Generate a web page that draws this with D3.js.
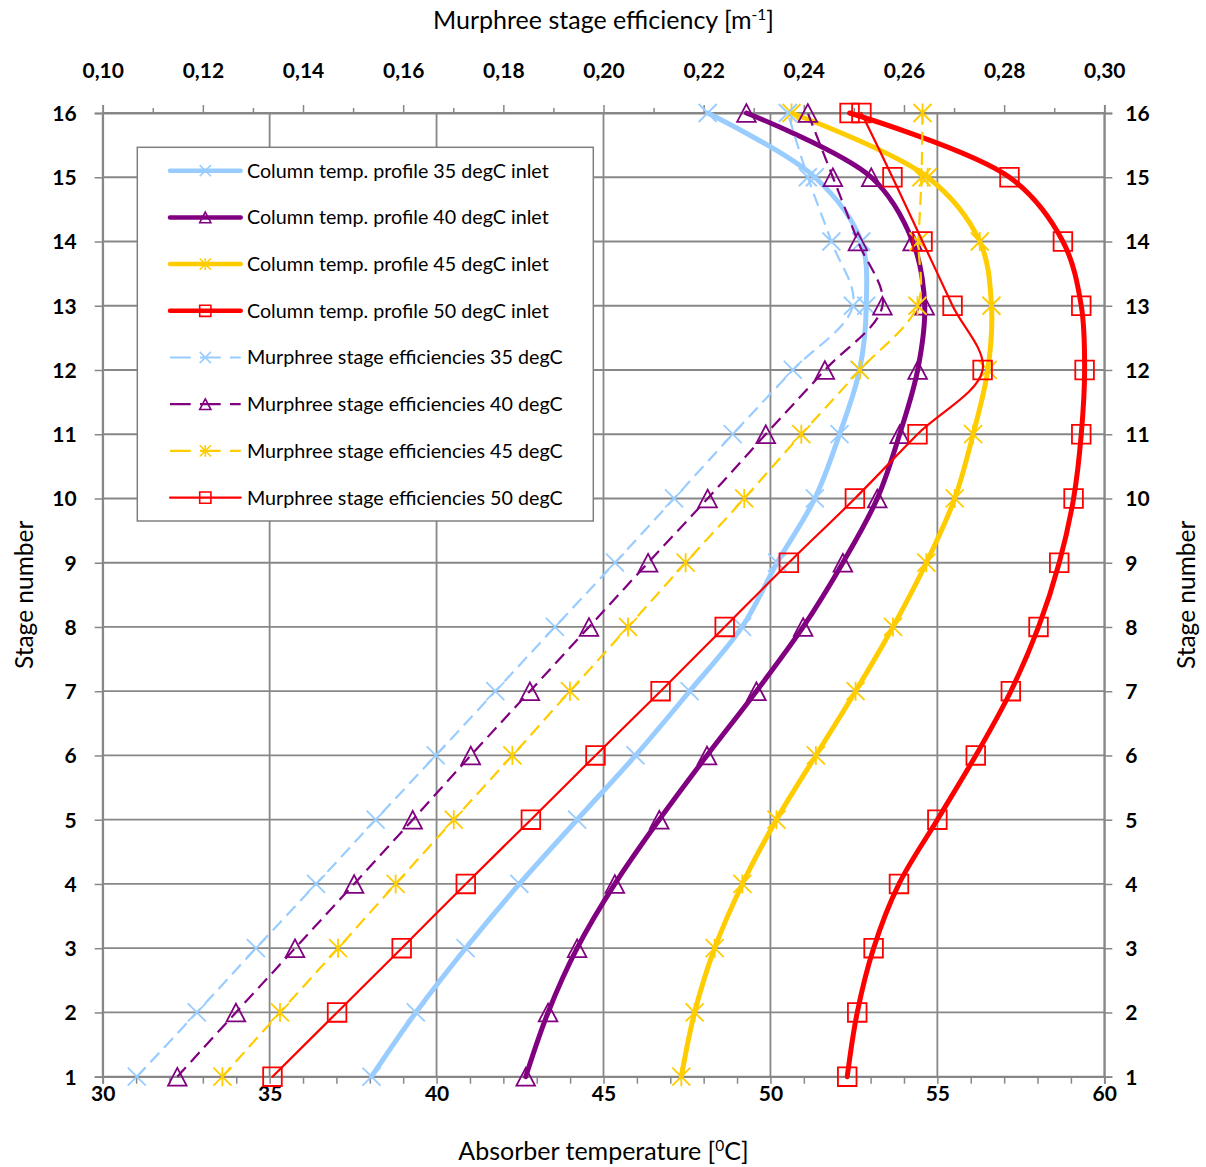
<!DOCTYPE html>
<html>
<head>
<meta charset="utf-8">
<script src="https://cdn.jsdelivr.net/npm/d3@7"></script>
<style>
  body { margin: 0; background: #fff; }
  text { font-family: Lato, "Open Sans", sans-serif; fill: #000; }
</style>
</head>
<body>
<svg id="chart" width="1206" height="1167"></svg>
<script>
// stage numbers (y axis, both sides)
var stages = d3.range(1, 17);

// column temperature profiles [degC], stage 1..16
var col35 = [38.05, 39.38, 40.87, 42.48, 44.21, 45.96, 47.58, 49.15, 50.2, 51.33, 52.07, 52.67, 52.87, 52.72, 51.33, 48.12];
var col40 = [42.67, 43.34, 44.21, 45.34, 46.67, 48.1, 49.58, 50.98, 52.17, 53.2, 53.87, 54.41, 54.62, 54.26, 53.02, 49.28];
var col45 = [47.33, 47.73, 48.33, 49.16, 50.18, 51.36, 52.55, 53.67, 54.67, 55.52, 56.07, 56.51, 56.62, 56.27, 54.71, 50.63];
var col50 = [52.3, 52.6, 53.09, 53.85, 55.0, 56.15, 57.2, 58.03, 58.65, 59.08, 59.31, 59.41, 59.31, 58.76, 57.16, 52.37];

// Murphree stage efficiencies [1/m], stage 1..16
var eff35 = [0.1068, 0.1188, 0.1306, 0.1426, 0.1545, 0.1665, 0.1784, 0.1903, 0.2023, 0.2141, 0.2258, 0.2378, 0.2498, 0.2455, 0.2408, 0.2368];
var eff40 = [0.1149, 0.1266, 0.1384, 0.1502, 0.1619, 0.1735, 0.1853, 0.1971, 0.2089, 0.2208, 0.2324, 0.2442, 0.2557, 0.2508, 0.2458, 0.2408];
var eff45 = [0.1239, 0.1354, 0.147, 0.1585, 0.1701, 0.1818, 0.1933, 0.2049, 0.2164, 0.2281, 0.2395, 0.2512, 0.2627, 0.2629, 0.2635, 0.2637];
var eff50 = [0.1339, 0.1468, 0.1597, 0.1725, 0.1855, 0.1984, 0.2114, 0.2242, 0.237, 0.2502, 0.2627, 0.2757, 0.2697, 0.2637, 0.2577, 0.2515];

// axis ticks
var tempTicks = [30, 35, 40, 45, 50, 55, 60];
var tempMinor = d3.range(30, 61);
var effMinor = d3.range(10, 31).map(function(d) { return d / 100; });

var legendLabels = [
  "Column temp. profile 35 degC inlet",
  "Column temp. profile 40 degC inlet",
  "Column temp. profile 45 degC inlet",
  "Column temp. profile 50 degC inlet",
  "Murphree stage efficiencies 35 degC",
  "Murphree stage efficiencies 40 degC",
  "Murphree stage efficiencies 45 degC",
  "Murphree stage efficiencies 50 degC"
];

var colors = ["#99CCFF", "#800080", "#FFCC00", "#FF0000"];
var symbols = ["x", "triangle", "star", "square"];

var series = [
  {values: col35, axis: "temp", color: colors[0], sym: symbols[0], w: 5, dash: null},
  {values: col40, axis: "temp", color: colors[1], sym: symbols[1], w: 5, dash: null},
  {values: col45, axis: "temp", color: colors[2], sym: symbols[2], w: 5, dash: null},
  {values: col50, axis: "temp", color: colors[3], sym: symbols[3], w: 5, dash: null},
  {values: eff35, axis: "eff", color: colors[0], sym: symbols[0], w: 2.2, dash: "13,7"},
  {values: eff40, axis: "eff", color: colors[1], sym: symbols[1], w: 2.2, dash: "13,7"},
  {values: eff45, axis: "eff", color: colors[2], sym: symbols[2], w: 2.2, dash: "13,7"},
  {values: eff50, axis: "eff", color: colors[3], sym: symbols[3], w: 2.2, dash: null}
];

// drawable area
var margin = {top: 113, right: 101.7, bottom: 90.3, left: 102.7},
    width = 1206 - margin.left - margin.right,
    height = 1167 - margin.top - margin.bottom;

var gridColor = "#878787";

var svg = d3.select("#chart");
var g = svg.append("g").attr("transform", "translate(" + margin.left + "," + margin.top + ")");

var x = d3.scaleLinear().domain([30, 60]).range([0, width]);
var xTop = d3.scaleLinear().domain([0.10, 0.30]).range([0, width]);
var y = d3.scaleLinear().domain([1, 16]).range([height, 0]);

var commaFmt = d3.formatLocale({decimal: ",", thousands: ".", grouping: [3], currency: ["", ""]}).format(".2f");

// gridlines
g.append("g").selectAll("line").data(tempTicks).enter().append("line")
  .attr("x1", function(d) { return x(d); }).attr("x2", function(d) { return x(d); })
  .attr("y1", 0).attr("y2", height)
  .attr("stroke", gridColor).attr("stroke-width", 1.8);
g.append("g").selectAll("line").data(stages).enter().append("line")
  .attr("y1", function(d) { return y(d); }).attr("y2", function(d) { return y(d); })
  .attr("x1", 0).attr("x2", width)
  .attr("stroke", gridColor).attr("stroke-width", 1.8);

function styleAxis(sel) {
  sel.select(".domain").attr("stroke", gridColor).attr("stroke-width", 1.8);
  sel.selectAll(".tick line").attr("stroke", gridColor).attr("stroke-width", 1.5);
  sel.selectAll(".tick text").attr("font-family", "Lato, 'Open Sans', sans-serif")
    .attr("font-weight", "bold").attr("font-size", 21).attr("fill", "#000");
}

// bottom axis
var axBottom = g.append("g").attr("transform", "translate(0," + height + ")")
  .call(d3.axisBottom(x).tickValues(tempMinor).tickSizeOuter(0).tickSize(7)
    .tickFormat(function(d) { return d % 5 === 0 ? d : ""; }));
styleAxis(axBottom);
axBottom.selectAll(".tick text").attr("y", 17).attr("dy", "0.35em");

// top axis
var axTop = g.append("g")
  .call(d3.axisTop(xTop).tickValues(effMinor).tickSizeOuter(0).tickSize(8)
    .tickFormat(function(d, i) { return i % 2 === 0 ? commaFmt(d) : ""; }));
styleAxis(axTop);
axTop.selectAll(".tick line").attr("y2", function(d, i) { return i % 2 === 0 ? -8 : -5; });
axTop.selectAll(".tick text").attr("y", -42).attr("dy", "0.35em");

// left axis
var axLeft = g.append("g")
  .call(d3.axisLeft(y).tickValues(stages).tickSizeOuter(0).tickSize(8).tickFormat(d3.format("d")));
styleAxis(axLeft);
axLeft.selectAll(".tick text").attr("x", -26).attr("dy", "0.35em");

// right axis
var axRight = g.append("g").attr("transform", "translate(" + width + ",0)")
  .call(d3.axisRight(y).tickValues(stages).tickSizeOuter(0).tickSize(8).tickFormat(d3.format("d")));
styleAxis(axRight);
axRight.selectAll(".tick text").attr("x", 21).attr("dy", "0.35em");

// marker shapes
function symbolPath(type, r) {
  if (type === "x") return "M" + (-r) + "," + (-r) + "L" + r + "," + r + "M" + (-r) + "," + r + "L" + r + "," + (-r);
  if (type === "star") return "M" + (-r) + "," + (-r) + "L" + r + "," + r + "M" + (-r) + "," + r + "L" + r + "," + (-r) +
    "M0," + (-r * 1.05) + "L0," + (r * 1.05);
  if (type === "triangle") return "M0," + (-r * 0.95) + "L" + r + "," + (r * 0.95) + "L" + (-r) + "," + (r * 0.95) + "Z";
  if (type === "square") return "M" + (-r) + "," + (-r) + "H" + r + "V" + r + "H" + (-r) + "Z";
}

var line = d3.line().curve(d3.curveCatmullRom.alpha(0.5));

series.forEach(function(s) {
  var sx = s.axis === "temp" ? x : xTop;
  var pts = s.values.map(function(v, i) { return [sx(v), y(stages[i])]; });
  g.append("path")
    .attr("d", line(pts))
    .attr("fill", "none")
    .attr("stroke", s.color)
    .attr("stroke-width", s.w)
    .attr("stroke-linecap", s.dash ? "butt" : "round")
    .attr("stroke-dasharray", s.dash);
  g.append("g").selectAll("path").data(pts).enter().append("path")
    .attr("transform", function(d) { return "translate(" + d[0] + "," + d[1] + ")"; })
    .attr("d", symbolPath(s.sym, s.sym === "x" || s.sym === "star" ? 9 : 9.3))
    .attr("fill", "none")
    .attr("stroke", s.color)
    .attr("stroke-width", 1.8);
});

// legend
var legend = svg.append("g");
legend.append("rect")
  .attr("x", 137.3).attr("y", 147.3).attr("width", 456).attr("height", 373.7)
  .attr("fill", "#fff").attr("stroke", "#7f7f7f").attr("stroke-width", 1.5);

var item = legend.selectAll("g.item").data(series).enter().append("g")
  .attr("class", "item")
  .attr("transform", function(d, i) { return "translate(0," + (170.7 + i * 46.7) + ")"; });
item.append("line")
  .attr("x1", 170).attr("x2", 240.7).attr("y1", 0).attr("y2", 0)
  .attr("stroke", function(d) { return d.color; })
  .attr("stroke-width", function(d) { return d.axis === "temp" ? 4.5 : 2.2; })
  .attr("stroke-linecap", function(d) { return d.dash ? "butt" : "round"; })
  .attr("stroke-dasharray", function(d) { return d.dash ? "20.7,9.3" : null; });
item.append("path")
  .attr("transform", "translate(205.3,0)")
  .attr("d", function(d) { return symbolPath(d.sym, 5.6); })
  .attr("fill", "none")
  .attr("stroke", function(d) { return d.color; })
  .attr("stroke-width", 1.6);
item.append("text")
  .attr("x", 247).attr("dy", "0.35em")
  .attr("font-size", 19.7)
  .text(function(d, i) { return legendLabels[i]; });

// axis titles
var cx = margin.left + width / 2;
var cy = margin.top + height / 2;

var tTop = svg.append("text").attr("x", cx).attr("y", 20).attr("dy", "0.35em")
  .attr("text-anchor", "middle").attr("font-size", 25);
tTop.append("tspan").text("Murphree stage efficiency [m");
tTop.append("tspan").attr("font-size", 15.5).attr("dy", "-0.55em").text("-1");
tTop.append("tspan").attr("dy", "0.35em").text("]");

var tBot = svg.append("text").attr("x", cx).attr("y", 1151).attr("dy", "0.35em")
  .attr("text-anchor", "middle").attr("font-size", 25);
tBot.append("tspan").text("Absorber temperature [");
tBot.append("tspan").attr("font-size", 15.5).attr("dy", "-0.55em").text("0");
tBot.append("tspan").attr("dy", "0.35em").text("C]");

svg.append("text").attr("transform", "translate(24," + cy + ") rotate(-90)")
  .attr("dy", "0.35em").attr("text-anchor", "middle").attr("font-size", 24.5).text("Stage number");
svg.append("text").attr("transform", "translate(1186," + cy + ") rotate(-90)")
  .attr("dy", "0.35em").attr("text-anchor", "middle").attr("font-size", 24.5).text("Stage number");
</script>
</body>
</html>
